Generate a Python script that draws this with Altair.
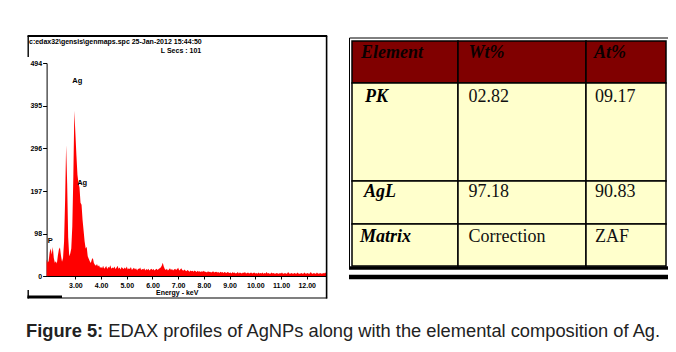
import altair as alt
import pandas as pd

# ---------------- data ----------------
# EDAX spectrum counts, one value per 0.04 keV channel starting at 1.88 keV
counts = [
    38, 31, 35, 55, 64, 50, 67, 42, 31, 34, 29, 48, 62, 66, 47, 33, 42, 80, 175, 303, 215, 90, 46, 52, 64,
    115, 230, 383, 331, 280, 235, 215, 205, 170, 165, 130, 105, 80, 64, 68, 46, 40, 34, 30, 38, 42, 30, 26, 24, 28,
    22, 25, 19, 21, 18, 24, 17, 20, 23, 16, 21, 19, 25, 17, 20, 18, 22, 16, 19, 24, 17, 20, 15, 21, 18,
    16, 20, 17, 22, 15, 18, 16, 21, 14, 17, 19, 15, 18, 13, 17, 16, 20, 14, 16, 15, 18, 13, 16, 14, 17,
    13, 15, 17, 14, 16, 13, 15, 17, 14, 16, 18, 20, 24, 31, 22, 16, 14, 17, 13, 15, 18, 14, 16, 13, 15,
    17, 14, 16, 19, 13, 15, 18, 14, 12, 15, 13, 11, 14, 12, 10, 13, 11, 12, 10, 13, 11, 9, 12, 10, 11,
    9, 11, 10, 12, 9, 10, 8, 11, 9, 10, 8, 9, 11, 8, 9, 10, 8, 9, 7, 10, 8, 9, 7, 9, 8,
    7, 9, 8, 7, 8, 6, 9, 7, 8, 6, 7, 9, 6, 8, 7, 6, 8, 7, 9, 6, 7, 8, 6, 7, 8,
    6, 7, 8, 6, 7, 5, 8, 6, 7, 6, 8, 5, 7, 6, 9, 6, 7, 5, 6, 8, 6, 7, 5, 6, 7,
    6, 5, 7, 6, 8, 5, 6, 7, 5, 6, 9, 6, 5, 7, 6, 5, 7, 6, 5, 8, 6, 5, 6, 7, 5,
    6, 8, 5, 6, 7, 5, 6, 9, 6, 5, 7, 6, 5, 8, 6, 5, 7, 6, 5, 7, 6, 8, 6,
]
E_START, E_STEP = 1.88, 0.04
energy = [round(E_START + E_STEP * i, 2) for i in range(len(counts))]

x_domain = [1.88, 12.76]
y_domain = [0, 494]
x_tick_values = [3, 4, 5, 6, 7, 8, 9, 10, 11, 12]
y_tick_values = [0, 98, 197, 296, 395, 494]

peak_names = ["Ag", "Ag", "P"]
peak_energy = [2.88, 3.07, 1.92]
peak_counts = [447, 211, 76]

spc_line = "c:edax32\\gensis\\genmaps.spc 25-Jan-2012 15:44:50"
lsecs_line = "L Secs : 101"
x_title = "Energy - keV"

table_header = ["Element", "Wt%", "At%"]
table_element = ["PK", "AgL", "Matrix"]
table_wt = ["02.82", "97.18", "Correction"]
table_at = ["09.17", "90.83", "ZAF"]

caption_bold = "Figure 5:"
caption_rest = "EDAX profiles of AgNPs along with the elemental composition of Ag."

# ---------------- layout (page pixel coordinates) ----------------
W, H = 660, 336
O = 8
PX = alt.Scale(domain=[O, O + W], range=[0, W], nice=False, zero=False)
PY = alt.Scale(domain=[O, O + H], range=[0, H], nice=False, zero=False)

SPEC_X0, SPEC_X1 = 46.6, 326.2
SPEC_Y0, SPEC_Y1 = 276.0, 63.0
XS = alt.Scale(domain=x_domain, range=[SPEC_X0 - O, SPEC_X1 - O], nice=False, zero=False)
YS = alt.Scale(domain=y_domain, range=[SPEC_Y0 - O, SPEC_Y1 - O], nice=False, zero=False)

SANS = "Liberation Sans"
SERIF = "Liberation Serif"

# ---------------- spectrum ----------------
spec_df = pd.DataFrame({"energy": energy, "counts": counts})

spectrum = alt.Chart(spec_df).mark_area(color="#ff0000", interpolate="linear").encode(
    x=alt.X(
        "energy:Q", scale=XS,
        axis=alt.Axis(
            values=x_tick_values, format=".2f", title=x_title, offset=-(H - (SPEC_Y0 - O)),
            grid=False, labelFont=SANS, labelFontSize=7, labelFontWeight="bold", labelColor="black",
            tickColor="black", tickSize=3, domainColor="black", domainWidth=1, labelPadding=2,
            labelOverlap=False, labelFlush=False,
            titleFont=SANS, titleFontSize=7, titleFontWeight="bold", titleColor="black",
            titlePadding=0, titleX=176.7 - O,
        ),
    ),
    y=alt.Y(
        "counts:Q", scale=YS,
        axis=alt.Axis(
            values=y_tick_values, title=None, offset=-(SPEC_X0 - O), grid=False,
            labelFont=SANS, labelFontSize=7, labelFontWeight="bold", labelColor="black",
            tickColor="black", tickSize=4, domainColor="black", domainWidth=1, labelPadding=1,
            labelOverlap=False, labelFlush=False,
        ),
    ),
)

peaks_df = pd.DataFrame({"name": peak_names, "energy": peak_energy, "counts": peak_counts})
peaks = alt.Chart(peaks_df).mark_text(
    align="left", baseline="alphabetic", font=SANS, fontSize=7.5, fontWeight="bold", color="black"
).encode(
    x=alt.X("energy:Q", scale=XS, axis=None),
    y=alt.Y("counts:Q", scale=YS, axis=None),
    text="name:N",
)

# frame of the spectrum panel
frame_df = pd.DataFrame([
    {"x": 27.5, "x2": 327.2, "y": 36.0, "y2": 36.0, "w": 2.0},
    {"x": 326.6, "x2": 326.6, "y": 36.0, "y2": 298.5, "w": 1.6},
    {"x": 27.5, "x2": 327.2, "y": 298.0, "y2": 298.0, "w": 1.2},
    {"x": 27.5, "x2": 62.0, "y": 296.8, "y2": 296.8, "w": 2.6},
    {"x": 28.2, "x2": 28.2, "y": 36.0, "y2": 57.0, "w": 1.4},
    {"x": 28.2, "x2": 28.2, "y": 290.0, "y2": 298.5, "w": 1.4},
])
frame = alt.Chart(frame_df).mark_rule(color="black").encode(
    x=alt.X("x:Q", scale=PX, axis=None), x2="x2:Q",
    y=alt.Y("y:Q", scale=PY, axis=None), y2="y2:Q",
    strokeWidth=alt.StrokeWidth("w:Q", scale=None),
)

spec_text_df = pd.DataFrame([
    {"t": spc_line, "x": 29.0, "y": 43.5, "a": "left"},
    {"t": lsecs_line, "x": 181.0, "y": 52.5, "a": "center"},
])
spec_text_left = alt.Chart(spec_text_df[spec_text_df.a == "left"]).mark_text(
    align="left", baseline="alphabetic", font=SANS, fontSize=7, fontWeight="bold", color="black"
).encode(x=alt.X("x:Q", scale=PX, axis=None), y=alt.Y("y:Q", scale=PY, axis=None), text="t:N")
spec_text_center = alt.Chart(spec_text_df[spec_text_df.a == "center"]).mark_text(
    align="center", baseline="alphabetic", font=SANS, fontSize=7, fontWeight="bold", color="black"
).encode(x=alt.X("x:Q", scale=PX, axis=None), y=alt.Y("y:Q", scale=PY, axis=None), text="t:N")

# ---------------- table ----------------
col_edges = [352.0, 458.0, 586.0, 666.0]
row_edges = [41.0, 83.0, 181.0, 224.0, 266.0]
row_baselines = [58.3, 101.7, 197.3, 241.7]
header_x = [361.0, 468.5, 594.0]
element_x = [365.0, 364.0, 360.0]
value_x = [468.5, 595.0]

cells = []
for r in range(4):
    for c in range(3):
        cells.append({
            "x": col_edges[c], "x2": col_edges[c + 1],
            "y": row_edges[r], "y2": row_edges[r + 1],
            "fill": "#800000" if r == 0 else "#ffffcc",
        })
cells_df = pd.DataFrame(cells)

outer = alt.Chart(pd.DataFrame([{"x": 349.5, "x2": 668.5, "y": 38.0, "y2": 268.0}])).mark_rect(
    fill="white", stroke="black", strokeWidth=1.0
).encode(x=alt.X("x:Q", scale=PX, axis=None), x2="x2:Q", y=alt.Y("y:Q", scale=PY, axis=None), y2="y2:Q")

cell_rects = alt.Chart(cells_df).mark_rect(stroke="black", strokeWidth=1.5).encode(
    x=alt.X("x:Q", scale=PX, axis=None), x2="x2:Q",
    y=alt.Y("y:Q", scale=PY, axis=None), y2="y2:Q",
    color=alt.Color("fill:N", scale=None),
)

rules_df = pd.DataFrame([
    {"x": 349.0, "x2": 669.0, "y": 268.0, "y2": 268.0, "w": 3.6},
    {"x": 349.0, "x2": 676.0, "y": 277.0, "y2": 277.0, "w": 4.6},
])
table_rules = alt.Chart(rules_df).mark_rule(color="black").encode(
    x=alt.X("x:Q", scale=PX, axis=None), x2="x2:Q",
    y=alt.Y("y:Q", scale=PY, axis=None), y2="y2:Q",
    strokeWidth=alt.StrokeWidth("w:Q", scale=None),
)

header_df = pd.DataFrame({"t": table_header, "x": header_x, "y": [row_baselines[0]] * 3})
header_text = alt.Chart(header_df).mark_text(
    align="left", baseline="alphabetic", font=SERIF, fontSize=18, fontWeight="bold",
    fontStyle="italic", color="#0a0000"
).encode(x=alt.X("x:Q", scale=PX, axis=None), y=alt.Y("y:Q", scale=PY, axis=None), text="t:N")

elem_df = pd.DataFrame({"t": table_element, "x": element_x, "y": row_baselines[1:]})
elem_text = alt.Chart(elem_df).mark_text(
    align="left", baseline="alphabetic", font=SERIF, fontSize=18, fontWeight="bold",
    fontStyle="italic", color="black"
).encode(x=alt.X("x:Q", scale=PX, axis=None), y=alt.Y("y:Q", scale=PY, axis=None), text="t:N")

vals = []
for i in range(3):
    vals.append({"t": table_wt[i], "x": value_x[0], "y": row_baselines[i + 1]})
    vals.append({"t": table_at[i], "x": value_x[1], "y": row_baselines[i + 1]})
vals_df = pd.DataFrame(vals)
val_text = alt.Chart(vals_df).mark_text(
    align="left", baseline="alphabetic", font=SERIF, fontSize=18, color="#111111"
).encode(x=alt.X("x:Q", scale=PX, axis=None), y=alt.Y("y:Q", scale=PY, axis=None), text="t:N")

# ---------------- caption ----------------
cap_bold = alt.Chart(pd.DataFrame([{"t": caption_bold, "x": 26.0, "y": 337.0}])).mark_text(
    align="left", baseline="alphabetic", font=SANS, fontSize=18.3, fontWeight="bold", color="#222222"
).encode(x=alt.X("x:Q", scale=PX, axis=None), y=alt.Y("y:Q", scale=PY, axis=None), text="t:N")
cap_rest = alt.Chart(pd.DataFrame([{"t": caption_rest, "x": 108.3, "y": 337.0}])).mark_text(
    align="left", baseline="alphabetic", font=SANS, fontSize=18.3, color="#222222"
).encode(x=alt.X("x:Q", scale=PX, axis=None), y=alt.Y("y:Q", scale=PY, axis=None), text="t:N")

chart = alt.layer(
    spectrum, peaks, frame, spec_text_left, spec_text_center,
    outer, cell_rects, table_rules, header_text, elem_text, val_text,
    cap_bold, cap_rest,
).resolve_scale(x="independent", y="independent").properties(
    width=W, height=H, padding=0, autosize=alt.AutoSizeParams(type="none"), background="white"
).configure_view(stroke=None)

chart.save("out.html", embed_options={"renderer": "svg", "actions": False})
